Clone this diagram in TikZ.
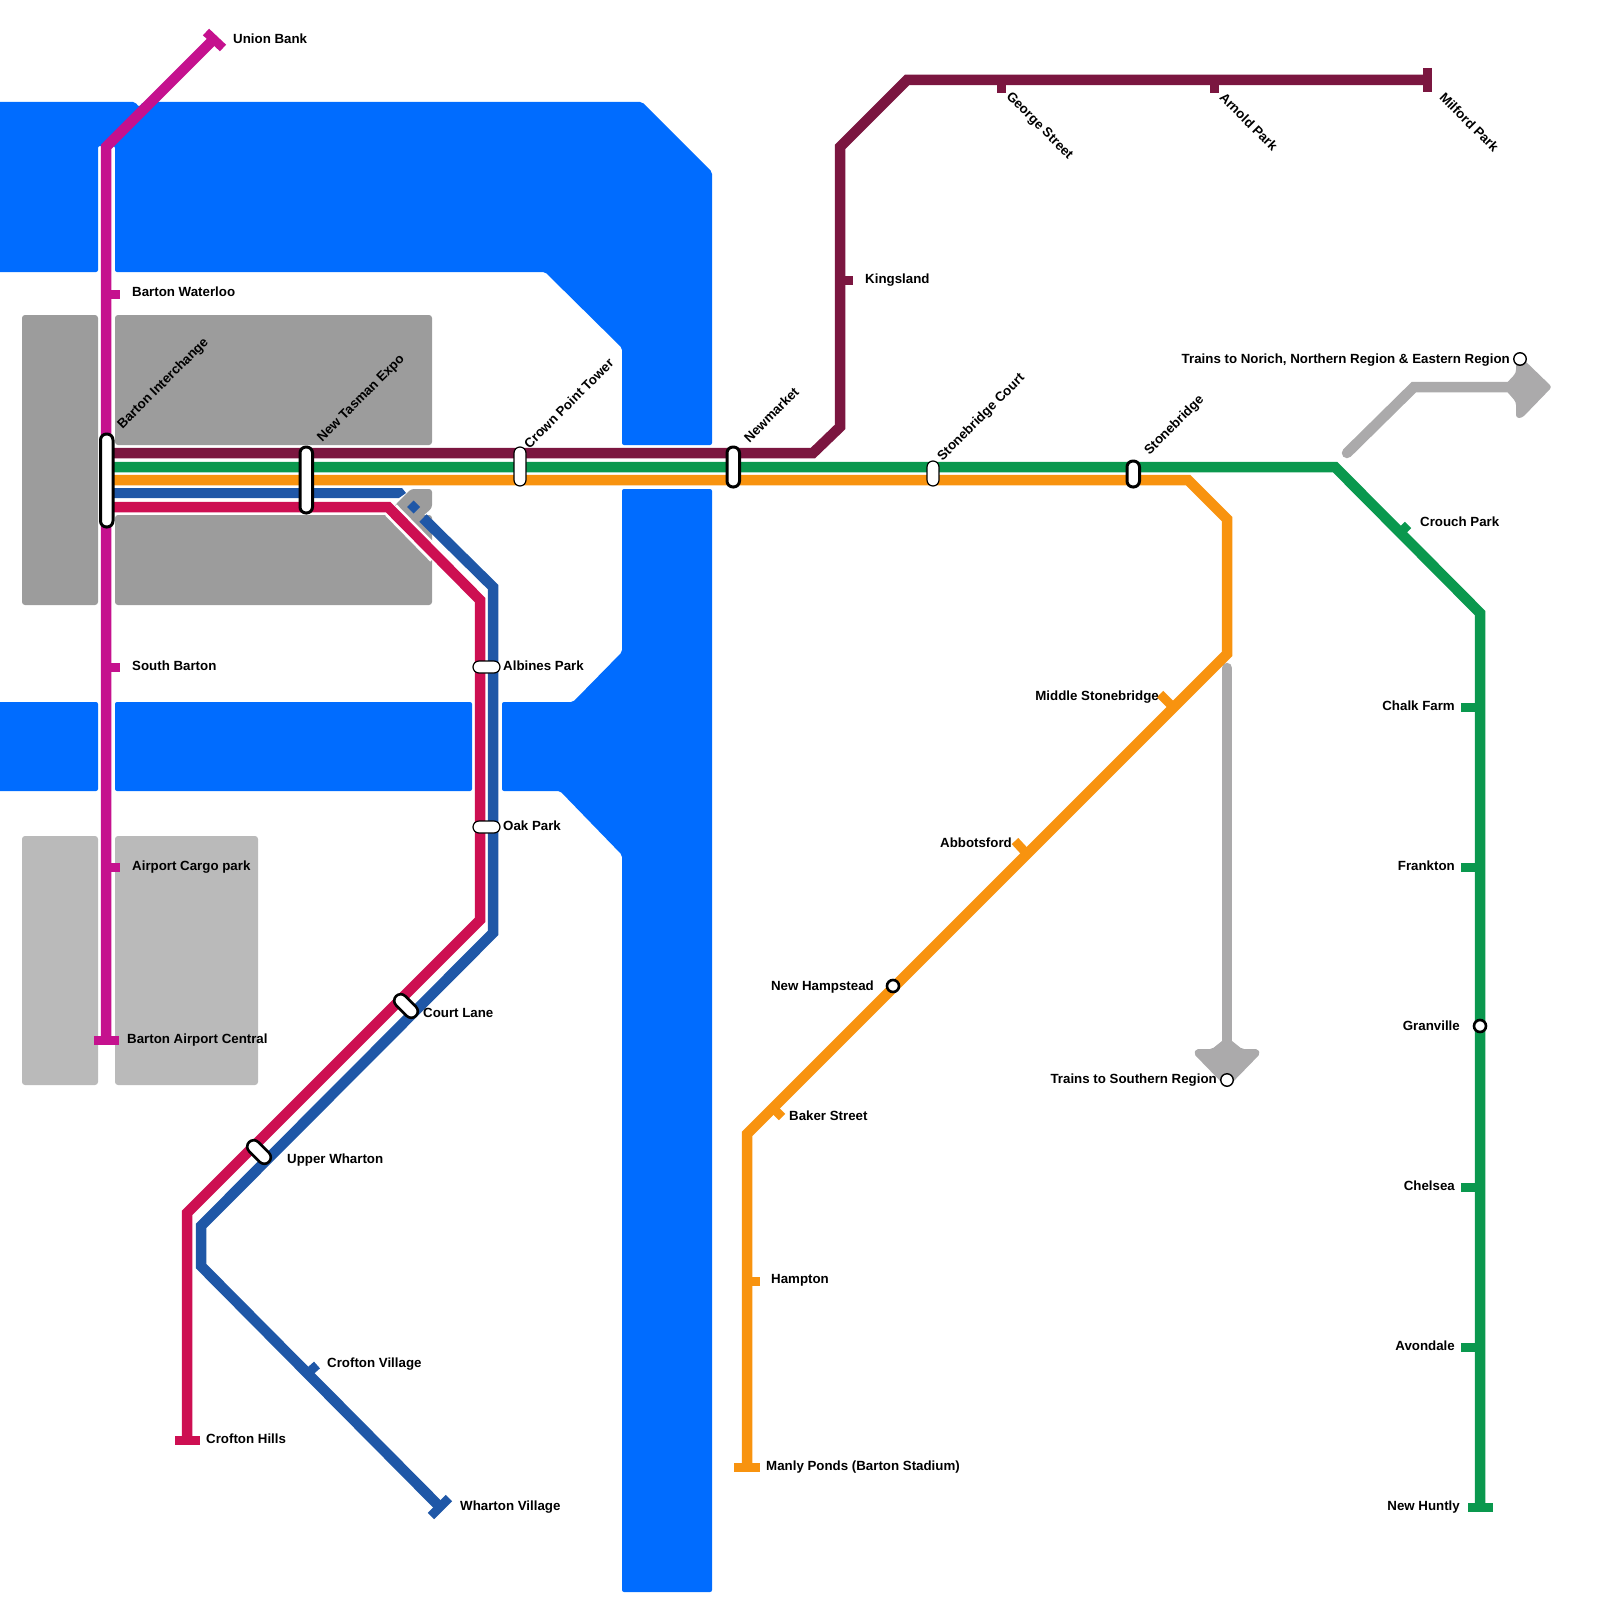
\documentclass[tikz,border=0pt]{standalone}
\usepackage{fontspec}
\setmainfont{Liberation Sans}
\definecolor{water}{HTML}{006CFF}
\definecolor{parkdark}{HTML}{9C9C9C}
\definecolor{parklight}{HTML}{BABABA}
\definecolor{railgrey}{HTML}{ABAAAB}
\definecolor{linemag}{HTML}{C5118E}
\definecolor{linemar}{HTML}{7B1640}
\definecolor{linegrn}{HTML}{0A984E}
\definecolor{lineora}{HTML}{F8930F}
\definecolor{lineblu}{HTML}{1F57A7}
\definecolor{linered}{HTML}{CD0F52}
\tikzset{
	railline/.style={line width=10.5pt,line join=miter},
	stub/.style={line width=9pt},
	pill/.style={draw=black,fill=white,line width=3pt,rounded corners=6pt},
	midpill/.style={draw=black,fill=white,line width=2.6pt,rounded corners=6.5pt},
	thinpill/.style={draw=black,fill=white,line width=1.2pt,rounded corners=6pt},
	stop/.style={circle,draw=black,fill=white,line width=2.6pt,minimum size=12pt,inner sep=0pt},
	thinstop/.style={circle,draw=black,fill=white,line width=1.4pt,minimum size=12.5pt,inner sep=0pt},
	lab/.style={font=\bfseries\fontsize{13.3}{13.3}\selectfont,inner sep=0pt},
	labw/.style={lab,anchor=west},
	labe/.style={lab,anchor=east},
	labup/.style={lab,anchor=west,rotate=45},
	labdn/.style={lab,anchor=west,rotate=-45},
}
\begin{document}
\begin{tikzpicture}[x=1pt,y=-1pt]
\useasboundingbox (0,0) rectangle (1600,1600);

% water
\fill[water,rounded corners=2pt] (-5,102) -- (135,102) -- (139,107) -- (143,102) -- (642,102) -- (712,172) -- (712,445) -- (622,445) -- (622,348) -- (545,272) -- (115,272) -- (115,146) -- (98,146) -- (98,272) -- (-5,272) -- cycle;
\fill[water,rounded corners=2pt] (-5,702) rectangle (98,791);
\fill[water,rounded corners=2pt] (115,702) rectangle (472,791);
\fill[water,rounded corners=2pt] (502,702) -- (573,702) -- (622,652) -- (622,489) -- (712,489) -- (712,1592) -- (622,1592) -- (622,855) -- (560,791) -- (502,791) -- cycle;

% parks
\foreach \xa/\ya/\xb/\yb in {22/315/98/605,115/315/432/445,115/515/432/605}{
	\fill[parkdark,rounded corners=3pt] (\xa,\ya) rectangle (\xb,\yb);
}
\fill[parkdark,rounded corners=3pt] (411,489) -- (432,489) -- (432,508) -- (416,522) -- (432,538) -- (432,560) -- (390,515) -- (396,504) -- cycle;
\foreach \xa/\xb in {22/98,115/258}{
	\fill[parklight,rounded corners=3pt] (\xa,836) rectangle (\xb,1085);
}

% regional trains
\draw[railline,railgrey,line cap=round] (1347,453) -- (1414,387) -- (1510,387);
\fill[railgrey,rounded corners=3pt] (1503,387) -- (1516,373) -- (1516,358) -- (1522,358) -- (1552,387) -- (1522,418) -- (1516,418) -- (1516,402) -- cycle;
\draw[railline,railgrey,line cap=round] (1227,668) -- (1227,1045);
\fill[railgrey,rounded corners=2pt] (1227,1037) -- (1242,1049) -- (1258,1049) -- (1260,1054) -- (1227,1088) -- (1194,1054) -- (1196,1049) -- (1212,1049) -- cycle;

% lines
\draw[railline,linemar] (106,453) -- (813,453) -- (840,427) -- (840,147) -- (907,80) -- (1427,80);
\draw[railline,linegrn] (106,467) -- (1335,467) -- (1480,613) -- (1480,1507);
\draw[railline,lineora] (106,480) -- (1188,480) -- (1227,519) -- (1227,654) -- (747,1134) -- (747,1467);
\fill[lineblu] (106,488) -- (402,488) -- (406,493) -- (399,498) -- (106,498) -- cycle;
\fill[lineblu] (413.5,500.5) -- (420,507) -- (413.5,513.5) -- (407,507) -- cycle;
\draw[railline,lineblu] (423,518) -- (493,587) -- (493,933) -- (201,1226) -- (201,1266) -- (440,1507);
\draw[line width=16pt,white] (391,510) -- (436,556);
\draw[railline,linered] (106,507) -- (388,507) -- (480,600) -- (480,920) -- (187,1213) -- (187,1440);
\draw[railline,linemag] (106,1040) -- (106,147) -- (214,39);

% line ends
\draw[stub,linemag] (206,32) -- (223,48);
\draw[stub,linemag] (94,1040) -- (119,1040);
\draw[stub,linemar] (1427,68) -- (1427,92);
\draw[stub,linegrn] (1468,1507) -- (1493,1507);
\draw[stub,lineora] (734,1467) -- (760,1467);
\draw[stub,linered] (175,1440) -- (200,1440);
\draw[stub,lineblu] (431,1516) -- (449,1498);

% stops
\foreach \y in {294,667,867}{
	\draw[stub,linemag] (106,\y) -- (120,\y);
}
\foreach \x in {1001,1214}{
	\draw[stub,linemar] (\x,80) -- (\x,93);
}
\draw[stub,linemar] (840,280) -- (853,280);
\foreach \y in {707,867,1187,1347}{
	\draw[stub,linegrn] (1480,\y) -- (1461,\y);
}
\draw[stub,linegrn] (1400.5,532.5) -- (1408,525);
\draw[stub,lineora] (1173.5,707.5) -- (1160,694);
\draw[stub,lineora] (1027,854) -- (1015,841);
\draw[stub,lineora] (773,1108) -- (782,1117);
\draw[stub,lineora] (747,1281) -- (760,1281);
\draw[stub,lineblu] (308,1373) -- (317,1365);

% interchanges
\draw[pill] (100.5,434) rectangle (113,527);
\draw[pill] (300,447) rectangle (312.5,513);
\draw[thinpill] (514,447) rectangle (526,486);
\draw[pill] (727,447) rectangle (739.5,487);
\draw[thinpill] (927,461) rectangle (939,486);
\draw[pill] (1127,461) rectangle (1139.5,487);
\draw[thinpill] (473,661) rectangle (500,673);
\draw[thinpill] (473,821) rectangle (500,833);
\draw[midpill,rotate around={-45:(406,1006)}] (392,999.5) rectangle (420,1012.5);
\draw[midpill,rotate around={-45:(259,1152)}] (245,1145.5) rectangle (273,1158.5);
\node[stop] (granville) at (1480,1026) {};
\node[stop] (hampstead) at (893,986) {};
\node[thinstop] (southern) at (1227,1080) {};
\node[thinstop] (norich) at (1520,359) {};

% labels
\foreach \n/\x/\y/\t in {
	union/233/39/Union Bank,
	waterloo/132/292/Barton Waterloo,
	south/132/666/South Barton,
	cargo/132/867/Airport Cargo park,
	central/127/1040/Barton Airport Central,
	kings/865/280/Kingsland,
	crouch/1420/522/Crouch Park,
	albines/503/666/Albines Park,
	oak/503/826/Oak Park,
	court/423/1013/Court Lane,
	upper/287/1160/Upper Wharton,
	village/327/1364/Crofton Village,
	hills/206/1439/Crofton Hills,
	wharton/460/1507/Wharton Village,
	baker/789/1116/Baker Street,
	hampton/771/1280/Hampton,
	manly/766/1467/Manly Ponds (Barton Stadium)}{
	\node[labw] (\n) at (\x,\y) {\t};
}
\foreach \n/\x/\y/\t in {
	norichlab/1510/360/{Trains to Norich, Northern Region \& Eastern Region},
	chalk/1455/706/Chalk Farm,
	frankton/1455/866/Frankton,
	granlab/1460/1026/Granville,
	chelsea/1455/1186/Chelsea,
	avondale/1455/1346/Avondale,
	huntly/1460/1507/New Huntly,
	middle/1159/697/Middle Stonebridge,
	abbots/1012/843/Abbotsford,
	hamplab/874/987/New Hampstead,
	southlab/1217/1080/Trains to Southern Region}{
	\node[labe] (\n) at (\x,\y) {\t};
}
\foreach \n/\x/\y/\t in {
	interchange/120/427/Barton Interchange,
	expo/320/440/New Tasman Expo,
	crown/526/446/Crown Point Tower,
	newmarket/746/440/Newmarket,
	sbcourt/940/459/Stonebridge Court,
	sbridge/1147/453/Stonebridge}{
	\node[labup] (\n) at (\x,\y) {\t};
}
\foreach \n/\x/\y/\t in {
	george/1008/95/George Street,
	arnold/1222/95/Arnold Park,
	milford/1442/95/Milford Park}{
	\node[labdn] (\n) at (\x,\y) {\t};
}

\end{tikzpicture}
\end{document}
